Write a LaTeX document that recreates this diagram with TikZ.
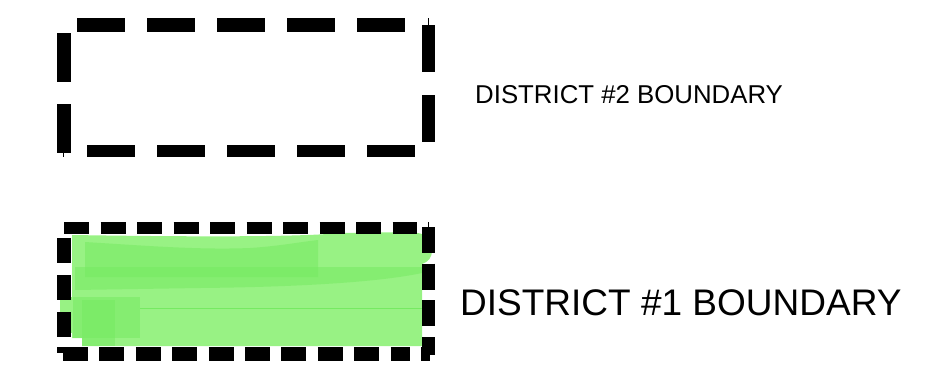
\documentclass[tikz,border=0pt]{standalone}
\usepackage{fontspec}
\setmainfont{Liberation Sans}
\usepackage{tikz}
\usetikzlibrary{positioning,calc}
\definecolor{hlgreen}{RGB}{152,242,132}
\definecolor{hldark}{RGB}{118,234,98}
\tikzset{
  edgetwo/.style={line width=#1, dash pattern=on 48pt off 22pt},
  edgeone/.style={line width=#1, dash pattern=on 25pt off 11.5pt},
  tickline/.style={line width=0.8pt},
  legendtext/.style={anchor=base west, inner sep=0pt, font=\fontsize{#1}{#1}\selectfont},
  hlstroke/.style={fill=hldark, fill opacity=0.55},
}
\begin{document}
\begin{tikzpicture}[x=1pt, y=-1pt]
\useasboundingbox (0,0) rectangle (934,370);
% district 2
\coordinate (b2nw) at (64,25);
\coordinate (b2se) at (428.5,151);
\draw[edgetwo=14pt] (77,25) -- (405,25);
\draw[edgetwo=12pt] (87,151) -- (415,151);
\draw[edgetwo=14pt, dash pattern=on 49pt off 22pt] (64,33) -- (64,153);
\draw[edgetwo=13pt, dash pattern=on 47pt off 23pt] (b2se |- b2nw) -- (428.5,142);
\draw[tickline] (428,18) -- (428,25);
\draw[tickline] (63,152) -- (63,157);
\node[legendtext=25.8pt] (d2label) at (475,103) {DISTRICT \#2 BOUNDARY};
% district 1 highlight
\fill[hlgreen] (72,235) .. controls (200,237) and (300,237) .. (340,233) -- (410,232)
  .. controls (426,233) and (433,238) .. (432,250) .. controls (432,258) and (428,262) .. (422,264)
  -- (422,346) -- (82,346) -- (82,338) -- (72,338) -- cycle;
\fill[hlgreen] (60,297) rectangle (73,333);
\fill[hlstroke] (85,242) .. controls (150,246) and (200,250) .. (250,248) .. controls (280,246) and (300,242) .. (318,240) -- (318,277) -- (85,277) -- cycle;
\fill[hlstroke] (75,267) -- (422,267) -- (422,273) .. controls (380,282) and (300,287) .. (200,288) -- (75,290) -- cycle;
\fill[hlstroke] (73,297) rectangle (140,338);
\fill[hlstroke] (82,300) rectangle (115,346);
\draw[hldark, line width=1pt] (140,308) -- (422,308);
% district 1
\draw[edgeone=12pt] (64,228) -- (417,228);
\draw[edgeone=14pt, dash pattern=on 25pt off 12pt] (64,238) -- (64,337);
\draw[edgeone=13pt, dash pattern=on 26pt off 10.7pt] (428.5,227) -- (428.5,355);
\draw[edgeone=14pt, dash pattern=on 25pt off 11.4pt] (63,354) -- (410,354);
\fill (57,347) rectangle (63,353);
\fill (421,347) rectangle (430,361);
\draw[tickline] (428,222) -- (428,227);
\node[legendtext=37pt] (d1label) at (460,315) {DISTRICT \#1 BOUNDARY};
\end{tikzpicture}
\end{document}
